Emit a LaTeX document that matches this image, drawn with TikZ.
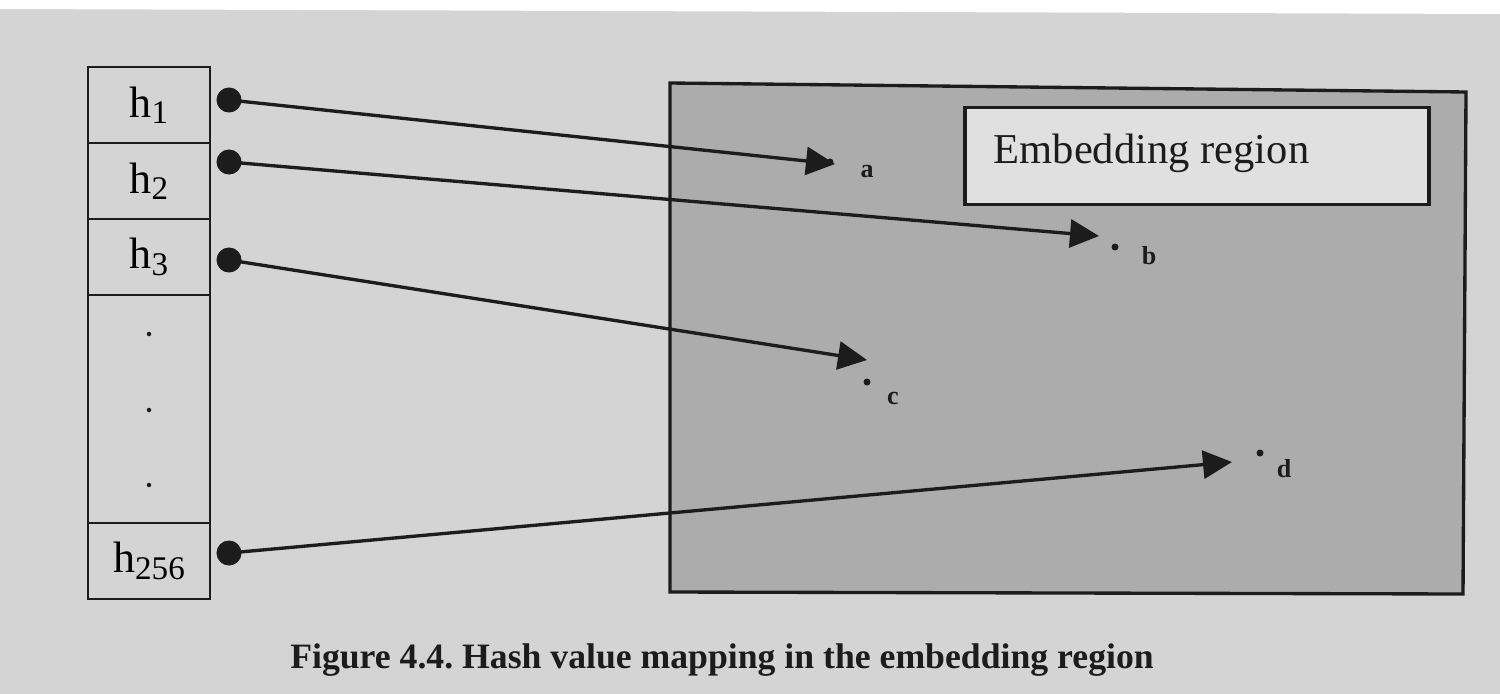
\documentclass[tikz,border=0pt]{standalone}
\usepackage{fontspec}
\setmainfont{Liberation Serif}
\usetikzlibrary{arrows.meta}
\frenchspacing
\definecolor{paper}{RGB}{212,212,212}
\definecolor{regionfill}{RGB}{172,172,172}
\definecolor{tagfill}{RGB}{224,224,224}
\definecolor{ink}{RGB}{28,28,28}
% lowered, smaller index after the letter h
\newcommand{\hidx}[1]{h\raisebox{-0.32ex}{\fontsize{9.4}{10}\selectfont #1}}
\tikzset{
  cell/.style={draw=ink, line width=0.6pt, minimum width=1.22cm, inner sep=0pt,
               font=\fontsize{12.5}{13}\selectfont},
  bullet/.style={circle, fill=ink, minimum size=0.25cm, inner sep=0pt},
  spot/.style={circle, fill=ink, minimum size=0.07cm, inner sep=0pt},
  tag/.style={font=\fontsize{7.4}{8}\selectfont\bfseries, text=ink, inner sep=0pt},
  vdot/.style={circle, fill=ink, minimum size=0.045cm, inner sep=0pt},
  maplink/.style={draw=ink, line width=0.95pt,
                  -{Triangle[length=0.29cm, width=0.28cm]}},
}
\begin{document}
\begin{tikzpicture}[x=0.01cm, y=-0.01cm]
  % page background
  \useasboundingbox (0,0) rectangle (1500,694);
  \fill[paper] (0,0) rectangle (1500,694);
  \fill[white] (0,0) -- (1500,0) -- (1500,14) -- (0,9) -- cycle;

  % embedding region
  \coordinate (rTL) at (670,83);
  \coordinate (rTR) at (1466,92);
  \coordinate (rBR) at (1463,594);
  \coordinate (rBL) at (670,592);
  \filldraw[fill=regionfill, draw=ink, line width=0.95pt]
    (rTL) -- (rTR) -- (rBR) -- (rBL) -- cycle;

  % title box inside the region
  \node[draw=ink, fill=tagfill, line width=0.95pt, minimum width=4.64cm,
        minimum height=0.97cm, inner sep=0pt] (title) at (1197,156) {};
  \node[anchor=base west, inner sep=0pt, font=\fontsize{12.1}{13}\selectfont, text=ink]
    (titletext) at (993,163) {Embedding region};

  % hash table
  \node[cell, minimum height=0.76cm] (c1) at (149,105) {\hidx{1}};
  \node[cell, minimum height=0.76cm] (c2) at (149,181) {\hidx{2}};
  \node[cell, minimum height=0.76cm] (c3) at (149,257) {\hidx{3}};
  \node[cell, minimum height=2.28cm] (cdots) at (149,409) {};
  \node[cell, minimum height=0.76cm] (c256) at (149,561) {\hidx{256}};
  \node[vdot] (v1) at (149,334) {};
  \node[vdot] (v2) at (149,410) {};
  \node[vdot] (v3) at (149,485) {};

  % source bullets
  \node[bullet] (s1) at (229,100) {};
  \node[bullet] (s2) at (229,162) {};
  \node[bullet] (s3) at (229,260) {};
  \node[bullet] (s256) at (229,553) {};

  % target points
  \node[spot] (pa) at (830,162) {};
  \node[spot] (pb) at (1115,247) {};
  \node[spot] (pc) at (867,382) {};
  \node[spot] (pd) at (1260,453) {};
  \node[tag] (la) at (867,172) {a};
  \node[tag] (lb) at (1149,256) {b};
  \node[tag] (lc) at (893,398) {c};
  \node[tag] (ld) at (1284,469) {d};

  % arrow tips
  \coordinate (ta) at (835,164);
  \coordinate (tb) at (1099,236);
  \coordinate (tc) at (867,360);
  \coordinate (td) at (1232,462);

  % mappings
  \draw[maplink] (s1.center) -- (ta);
  \draw[maplink] (s2.center) -- (tb);
  \draw[maplink] (s3.center) -- (tc);
  \draw[maplink] (s256.center) -- (td);

  % caption
  \node[anchor=base, inner sep=0pt, font=\fontsize{10.15}{11}\selectfont\bfseries, text=ink]
    (caption) at (722,668) {Figure 4.4. Hash value mapping in the embedding region};
\end{tikzpicture}
\end{document}
